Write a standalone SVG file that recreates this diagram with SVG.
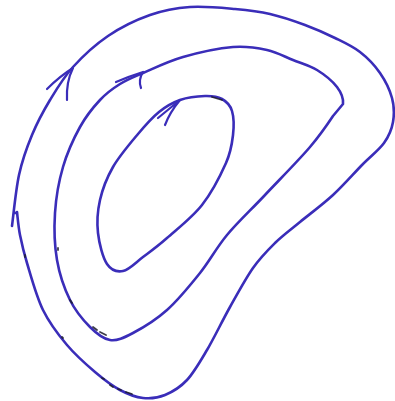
<svg xmlns="http://www.w3.org/2000/svg" width="395" height="401" viewBox="0 0 395 401">
<style>
.ln{fill:none;stroke:#3a2db9;stroke-width:2.6;stroke-linecap:round;stroke-linejoin:round}
.ar{fill:none;stroke:#3a2db9;stroke-width:2.2;stroke-linecap:round;stroke-linejoin:round}
.sp{fill:none;stroke:#1c1c2a;stroke-width:1.8;stroke-linecap:round;opacity:0.85}
</style>
<rect width="395" height="401" fill="#fff"/>
<g id="outer-orbit">
<path class="ln" d="M 12,226 C 13.2,217.5 15.7,190.2 19,175 S 26.8,147.5 32,135 S 43.2,111.3 50,100 S 63.3,77.7 73,67 S 95.2,44.7 108,36 S 136.3,19.8 150,15 S 175.8,8 190,7 S 221.7,7.8 235,9 S 258.3,11.3 270,14 S 294.2,21 305,25 S 325.8,33.5 335,38 S 352.5,46.2 360,52 S 374.7,65.3 380,73 S 389.8,89.8 392,98 S 394.3,114.5 393,122 S 389.2,135.8 384,143 S 370.5,156.3 362,165 S 343.3,185.5 333,195 S 309.7,214 300,222 S 282.8,235.3 275,243 S 260.5,257.3 253,268 S 237.7,293.3 230,307 S 214.2,337.8 207,350 S 194,372.5 187,380 S 172.3,392 165,395 S 150.5,398.8 143,398 S 128,394.3 120,390 S 103.8,379.5 95,372 S 75.7,355.3 67,345 S 49.7,323.7 43,310 S 30.8,275.5 27,263 S 21.7,243.5 20,235 S 17.5,215.8 17,212 l -1.5,1"/>
<path class="ar" d="M 47,89 Q 60,76 73,68 Q 66,82 67,100"/>
</g>
<g id="middle-orbit">
<path class="ln" d="M 143,73 C 153.5,68.5 168,61.3 183,57 S 219,48.2 233,47 S 257,47.8 267,50 S 284.7,56.7 293,60 S 309.7,65.5 317,70 S 332.8,81.5 337,87 S 343.5,99 343,104 L 333,116 S 321.3,133.7 310,147 S 278.8,180.3 265,195 S 237.8,222 227,235 S 210,260.5 200,273 S 178.2,300 167,310 S 142.5,328 133,333 S 117.2,341 110,340 S 96.7,333.7 90,327 S 75.5,311.2 70,300 S 59.5,274.5 57,260 S 54,228.5 55,213 S 58.8,181.3 63,167 S 73.8,138.2 80,127 S 93.3,107.2 100,100 S 112.8,88.5 120,84 S 132.5,77.5 143,73 Z"/>
<path class="ar" d="M 116,82 Q 130,76 143,72 Q 138,80 141,88"/>
</g>
<g id="inner-orbit">
<path class="ln" d="M 180,100 C 187.7,97.3 198,96.2 205,96 S 217.5,96.5 222,99 S 230.2,105 232,111 S 234,126.3 233,135 S 231.2,151.3 226,163 S 211.8,192.5 202,205 S 176.8,229.3 167,238 S 150.3,251.5 143,257 S 129,269.8 123,271 S 111.2,270.3 107,264 S 99.2,243.7 98,233 S 97.5,211 100,200 S 106.7,178 113,167 S 130.3,143.2 138,134 S 152,117.7 159,112 S 172.3,102.7 180,100 Z"/>
<path class="ar" d="M 158,118 L 180,100 Q 170,112 165,125"/>
</g>
<g id="specks">
<path class="sp" d="M 93,327 l 4,3 M 100,332 l 6,3 M 70,300 l 2,3 M 58,248 l 0,2 M 110,385 l 3,2 M 118,389 l 3,1 M 126,392 l 6,2 M 102,378 l 2,1 M 62,337 l 1,1 M 25,255 l 0,2 M 212,97 l 10,3"/>
</g>
</svg>
